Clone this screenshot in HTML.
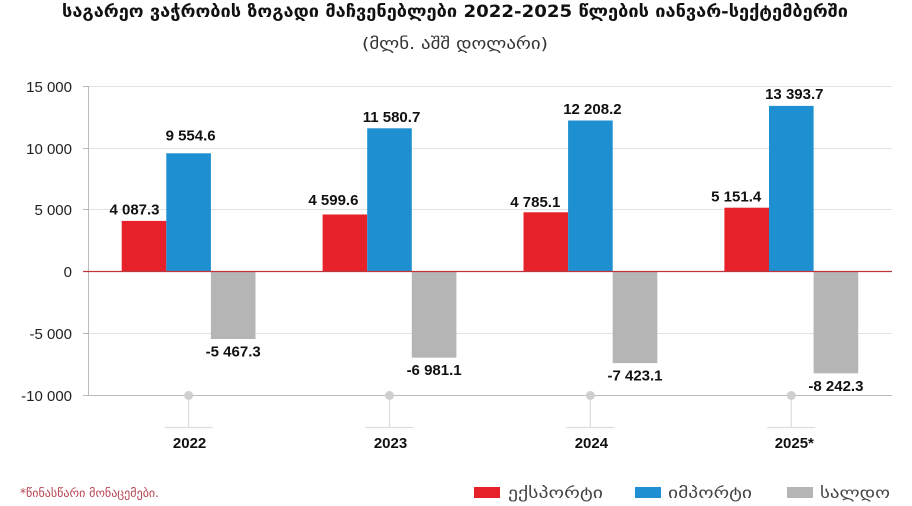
<!DOCTYPE html>
<html>
<head>
<meta charset="utf-8">
<style>
html,body{margin:0;padding:0;background:#fff;}
svg{display:block;}
.tick{font-family:"Liberation Sans",sans-serif;font-size:15px;fill:#222;}
.val{font-family:"Liberation Sans",sans-serif;font-size:15px;font-weight:bold;fill:#111;}
.yr{font-family:"Liberation Sans",sans-serif;font-size:15px;font-weight:bold;fill:#111;}
.geo{font-family:"DejaVu Sans","Liberation Sans",sans-serif;}
</style>
</head>
<body>
<svg width="912" height="506" viewBox="0 0 912 506" xmlns="http://www.w3.org/2000/svg">
  <!-- Title -->
  <text class="geo" x="62" y="17" font-size="17" font-weight="bold" fill="#111" textLength="786" lengthAdjust="spacingAndGlyphs">საგარეო ვაჭრობის ზოგადი მაჩვენებლები 2022-2025 წლების იანვარ-სექტემბერში</text>
  <text class="geo" x="362" y="49" font-size="16" fill="#333" textLength="186" lengthAdjust="spacingAndGlyphs">(მლნ. აშშ დოლარი)</text>

  <!-- gridlines -->
  <g stroke="#e2e2e2" stroke-width="1">
    <line x1="88" y1="86.5" x2="892" y2="86.5"/>
    <line x1="88" y1="148.5" x2="892" y2="148.5"/>
    <line x1="88" y1="209.5" x2="892" y2="209.5"/>
    <line x1="88" y1="333.5" x2="892" y2="333.5"/>
  </g>
  <!-- tick marks -->
  <g stroke="#bbbbbb" stroke-width="1">
    <line x1="83" y1="86.5" x2="88" y2="86.5"/>
    <line x1="83" y1="148.5" x2="88" y2="148.5"/>
    <line x1="83" y1="209.5" x2="88" y2="209.5"/>
    <line x1="83" y1="333.5" x2="88" y2="333.5"/>
    <line x1="83" y1="395.5" x2="892" y2="395.5"/>
    <line x1="88.5" y1="86" x2="88.5" y2="395"/>
  </g>

  <!-- y labels -->
  <g class="tick" text-anchor="end">
    <text x="72" y="92">15 000</text>
    <text x="72" y="154">10 000</text>
    <text x="72" y="215">5 000</text>
    <text x="72" y="277">0</text>
    <text x="72" y="339">-5 000</text>
    <text x="72" y="401">-10 000</text>
  </g>

  <!-- bars -->
  <g>
    <!-- 2022 -->
    <rect x="121.7" y="220.9" width="44.6" height="50.5" fill="#e62129"/>
    <rect x="166.3" y="153.3" width="44.6" height="118.1" fill="#1e8fd0"/>
    <rect x="210.9" y="271.4" width="44.6" height="67.6" fill="#b5b5b5"/>
    <!-- 2023 -->
    <rect x="322.6" y="214.5" width="44.6" height="56.9" fill="#e62129"/>
    <rect x="367.2" y="128.3" width="44.6" height="143.1" fill="#1e8fd0"/>
    <rect x="411.8" y="271.4" width="44.6" height="86.3" fill="#b5b5b5"/>
    <!-- 2024 -->
    <rect x="523.5" y="212.3" width="44.6" height="59.1" fill="#e62129"/>
    <rect x="568.1" y="120.5" width="44.6" height="150.9" fill="#1e8fd0"/>
    <rect x="612.7" y="271.4" width="44.6" height="91.7" fill="#b5b5b5"/>
    <!-- 2025 -->
    <rect x="724.4" y="207.7" width="44.6" height="63.7" fill="#e62129"/>
    <rect x="769.0" y="105.9" width="44.6" height="165.5" fill="#1e8fd0"/>
    <rect x="813.6" y="271.4" width="44.6" height="101.9" fill="#b5b5b5"/>
  </g>

  <!-- zero line -->
  <line x1="83" y1="271.5" x2="892" y2="271.5" stroke="#c0343c" stroke-width="1.2"/>

  <!-- value labels -->
  <g class="val" text-anchor="middle">
    <text x="134.5" y="214.5">4 087.3</text>
    <text x="190.6" y="140.5">9 554.6</text>
    <text x="233.2" y="356.5">-5 467.3</text>

    <text x="333.4" y="204.8">4 599.6</text>
    <text x="391.5" y="122.2">11 580.7</text>
    <text x="434.1" y="375.2">-6 981.1</text>

    <text x="535.3" y="207.2">4 785.1</text>
    <text x="592.4" y="113.8">12 208.2</text>
    <text x="635" y="380.6">-7 423.1</text>

    <text x="736.2" y="201.5">5 151.4</text>
    <text x="794.3" y="98.8">13 393.7</text>
    <text x="835.9" y="390.8">-8 242.3</text>
  </g>

  <!-- category markers -->
  <g stroke="#dddddd" stroke-width="1.2">
    <line x1="188.6" y1="396" x2="188.6" y2="427"/>
    <line x1="164.6" y1="427.5" x2="212.6" y2="427.5"/>
    <line x1="389.5" y1="396" x2="389.5" y2="427"/>
    <line x1="365.5" y1="427.5" x2="413.5" y2="427.5"/>
    <line x1="590.4" y1="396" x2="590.4" y2="427"/>
    <line x1="566.4" y1="427.5" x2="614.4" y2="427.5"/>
    <line x1="791.3" y1="396" x2="791.3" y2="427"/>
    <line x1="767.3" y1="427.5" x2="815.3" y2="427.5"/>
  </g>
  <g fill="#cfcfcf">
    <circle cx="188.6" cy="395.5" r="4.5"/>
    <circle cx="389.5" cy="395.5" r="4.5"/>
    <circle cx="590.4" cy="395.5" r="4.5"/>
    <circle cx="791.3" cy="395.5" r="4.5"/>
  </g>
  <g class="yr" text-anchor="middle">
    <text x="189.6" y="448">2022</text>
    <text x="390.5" y="448">2023</text>
    <text x="591.4" y="448">2024</text>
    <text x="794.3" y="448">2025*</text>
  </g>

  <!-- footnote -->
  <text class="geo" x="20" y="497" font-size="12" fill="#b5424f" textLength="139" lengthAdjust="spacingAndGlyphs">*წინასწარი მონაცემები.</text>

  <!-- legend -->
  <rect x="474" y="487" width="26" height="11" fill="#e62129"/>
  <text class="geo" x="508" y="498" font-size="15" fill="#444" textLength="95" lengthAdjust="spacingAndGlyphs">ექსპორტი</text>
  <rect x="635" y="487" width="26" height="11" fill="#1e8fd0"/>
  <text class="geo" x="668" y="498" font-size="15" fill="#444" textLength="84" lengthAdjust="spacingAndGlyphs">იმპორტი</text>
  <rect x="787" y="487" width="26" height="11" fill="#b5b5b5"/>
  <text class="geo" x="820" y="498" font-size="15" fill="#444" textLength="70" lengthAdjust="spacingAndGlyphs">სალდო</text>
</svg>
</body>
</html>
